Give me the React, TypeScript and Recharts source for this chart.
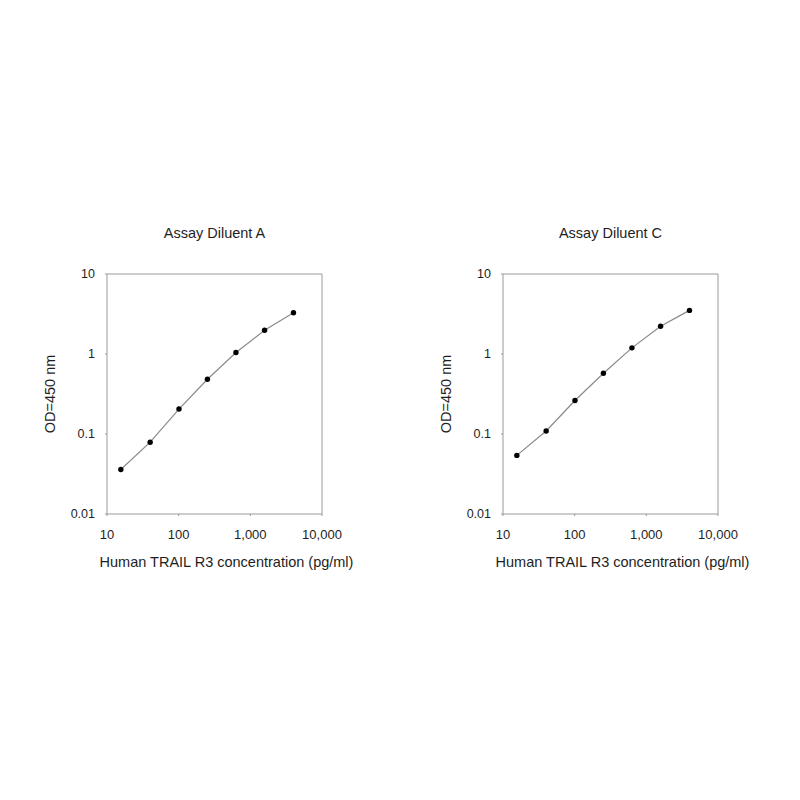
import React from 'react'
import {
  LineChart,
  Line,
  XAxis,
  YAxis,
  ReferenceLine,
} from 'recharts'

// concentrations (pg/ml)
const concentrations = [15.6, 40, 101, 252, 630, 1580, 4000]
// OD=450 nm readings
const diluentA = [0.036, 0.079, 0.205, 0.483, 1.045, 1.98, 3.28]
const diluentC = [0.054, 0.109, 0.262, 0.574, 1.194, 2.22, 3.51]

const xTicks = [10, 100, 1000, 10000]
const yTicks = [0.01, 0.1, 1, 10]

const FONT = '"Liberation Sans", Arial, sans-serif'
const AXIS = '#9a9a9a'
const TEXT = '#1e1e1e'

const toRows = (values: number[]) =>
  concentrations.map((c, i) => ({ conc: c, od: values[i] }))

interface PanelProps {
  title: string
  values: number[]
  left: number
}

function Panel({ title, values, left }: PanelProps) {
  const data = toRows(values)
  const isLeft = left === 0
  return (
    <div style={{ position: 'absolute', left, top: 200, width: 400, height: 400 }}>
      <div
        style={{
          position: 'absolute',
          left: isLeft ? 107 : 103,
          width: 215,
          top: 25,
          textAlign: 'center',
          fontFamily: FONT,
          fontSize: 14.5,
          color: TEXT,
        }}
      >
        {title}
      </div>
      <LineChart
        width={400}
        height={400}
        data={data}
        margin={{ top: 74, right: isLeft ? 78 : 82, bottom: 16, left: isLeft ? 67 : 63 }}
      >
        <XAxis
          dataKey="conc"
          type="number"
          scale="log"
          domain={[10, 10000]}
          ticks={xTicks}
          allowDataOverflow
          height={70}
          stroke={AXIS}
          tickSize={2}
          tickMargin={14}
          tick={{ fill: TEXT, fontSize: 13, fontFamily: FONT }}
          tickFormatter={(v: number) => v.toLocaleString('en-US')}
          label={{
            content: ({ viewBox }: any) => (
              <text
                x={viewBox.x + viewBox.width / 2 + 12}
                y={viewBox.y + 48}
                textAnchor="middle"
                dominantBaseline="central"
                fill={TEXT}
                fontSize={14.5}
                fontFamily={FONT}
              >
                Human TRAIL R3 concentration (pg/ml)
              </text>
            ),
          }}
        />
        <YAxis
          type="number"
          scale="log"
          domain={[0.01, 10]}
          ticks={yTicks}
          allowDataOverflow
          width={40}
          stroke={AXIS}
          tickSize={2}
          tickMargin={10}
          tick={{ fill: TEXT, fontSize: 12.5, fontFamily: FONT }}
          tickFormatter={(v: number) => String(v)}
          label={{
            content: ({ viewBox }: any) => {
              const cx = viewBox.x - 17
              const cy = viewBox.y + viewBox.height / 2
              return (
                <text
                  x={cx}
                  y={cy}
                  transform={`rotate(-90 ${cx} ${cy})`}
                  textAnchor="middle"
                  dominantBaseline="central"
                  fill={TEXT}
                  fontSize={14.5}
                  fontFamily={FONT}
                >
                  OD=450 nm
                </text>
              )
            },
          }}
        />
        <ReferenceLine x={10000} stroke={AXIS} />
        <ReferenceLine y={10} stroke={AXIS} />
        <Line
          type="linear"
          dataKey="od"
          stroke="#8a8a8a"
          strokeWidth={1.2}
          dot={{ r: 2.7, fill: '#000', stroke: '#000', strokeWidth: 0 }}
          isAnimationActive={false}
        />
      </LineChart>
    </div>
  )
}

export default function App() {
  return (
    <div
      style={{
        position: 'fixed',
        left: 0,
        top: 0,
        width: 800,
        height: 800,
        background: '#fff',
      }}
    >
      <Panel title="Assay Diluent A" values={diluentA} left={0} />
      <Panel title="Assay Diluent C" values={diluentC} left={400} />
    </div>
  )
}
